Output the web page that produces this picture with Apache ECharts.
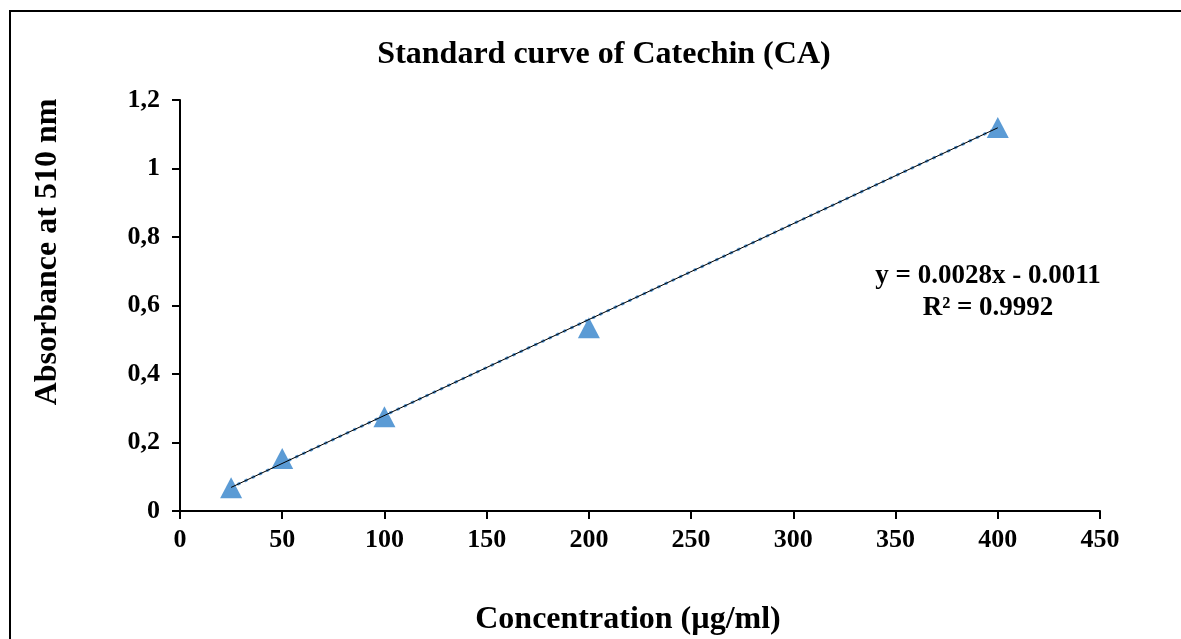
<!DOCTYPE html>
<html>
<head>
<meta charset="utf-8">
<script src="https://cdn.jsdelivr.net/npm/echarts@6/dist/echarts.min.js"></script>
<style>
html,body{margin:0;padding:0;background:#fff;}
#chart{width:1181px;height:639px;}
</style>
</head>
<body>
<div id="chart"></div>
<script>
const concentrations = [25, 50, 100, 200, 400];
const absorbances = [0.068, 0.153, 0.275, 0.535, 1.12];
const trendX = [25, 400];
const trendY = [0.0689, 1.1189];
const xTicks = [0, 50, 100, 150, 200, 250, 300, 350, 400, 450];
const yTicks = [0, 0.2, 0.4, 0.6, 0.8, 1, 1.2];

const FONT = '"Liberation Serif", "Times New Roman", serif';
const pts = concentrations.map((x, i) => [x, absorbances[i]]);
const trend = trendX.map((x, i) => [x, trendY[i]]);

const chart = echarts.init(document.getElementById('chart'));
chart.setOption({
  backgroundColor: '#fff',
  animation: false,
  title: {
    text: 'Standard curve of Catechin (CA)',
    left: 599, top: 34, textAlign: 'center',
    textStyle: {fontFamily: FONT, fontWeight: 'bold', fontSize: 32, color: '#000'}
  },
  grid: {left: 180, top: 100, right: 81, bottom: 128, containLabel: false},
  xAxis: {
    type: 'value', min: 0, max: 450, interval: 50,
    axisLine: {show: true, onZero: false, lineStyle: {color: '#000', width: 2}},
    axisTick: {show: true, inside: false, length: 8, lineStyle: {color: '#000', width: 2}},
    splitLine: {show: false},
    axisLabel: {
      margin: 16, color: '#000', fontFamily: FONT, fontWeight: 'bold', fontSize: 26,
      formatter: v => String(v)
    }
  },
  yAxis: {
    type: 'value', min: 0, max: 1.2, interval: 0.2,
    axisLine: {show: true, onZero: false, lineStyle: {color: '#000', width: 2}},
    axisTick: {show: true, inside: false, length: 8, lineStyle: {color: '#000', width: 2}},
    splitLine: {show: false},
    axisLabel: {
      margin: 20, color: '#000', fontFamily: FONT, fontWeight: 'bold', fontSize: 26,
      formatter: v => String(Math.round(v * 10) / 10).replace('.', ',')
    }
  },
  series: [
    {
      type: 'line', data: trend, symbol: 'none', z: 2,
      lineStyle: {color: '#5B9BD5', width: 3, type: [1, 7], cap: 'round'}
    },
    {
      type: 'line', data: trend, symbol: 'none', z: 3,
      lineStyle: {color: '#000', width: 1}
    },
    {
      type: 'scatter', data: pts, symbol: 'triangle', symbolSize: [22, 21], z: 1,
      itemStyle: {color: '#5B9BD5', opacity: 1}
    }
  ],
  graphic: [
    {type: 'rect', shape: {x: 10, y: 11, width: 1300, height: 800},
     style: {fill: null, stroke: '#000', lineWidth: 2}, silent: true, z: 0},
    {type: 'text', x: 48, y: 252, rotation: Math.PI / 2,
     style: {text: 'Absorbance at 510 nm', fontFamily: FONT, fontWeight: 'bold', fontSize: 32,
             fill: '#000', textAlign: 'center', textVerticalAlign: 'middle'}},
    {type: 'text', x: 628, y: 620,
     style: {text: 'Concentration (µg/ml)', fontFamily: FONT, fontWeight: 'bold', fontSize: 32,
             fill: '#000', textAlign: 'center', textVerticalAlign: 'middle'}},
    {type: 'text', x: 988, y: 276,
     style: {text: 'y = 0.0028x - 0.0011', fontFamily: FONT, fontWeight: 'bold', fontSize: 27,
             fill: '#000', textAlign: 'center', textVerticalAlign: 'middle'}},
    {type: 'text', x: 988, y: 308,
     style: {text: 'R² = 0.9992', fontFamily: FONT, fontWeight: 'bold', fontSize: 27,
             fill: '#000', textAlign: 'center', textVerticalAlign: 'middle'}}
  ]
});
</script>
</body>
</html>
